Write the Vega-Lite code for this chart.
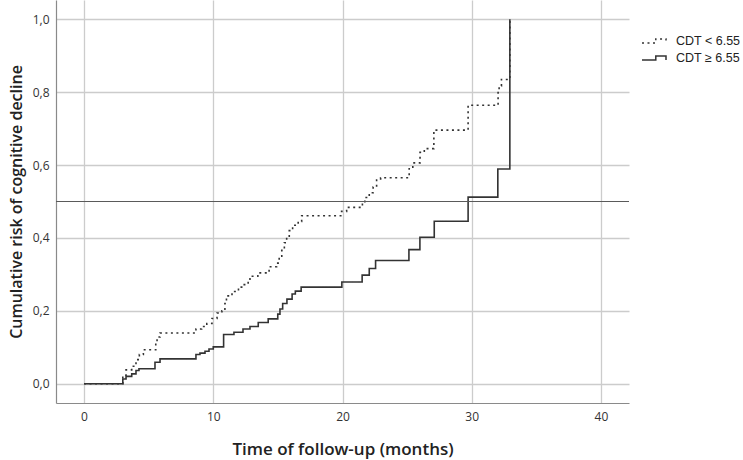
{
  "$schema": "https://vega.github.io/schema/vega-lite/v6.json",
  "autosize": {"type": "none"},
  "padding": {"left": 56, "top": 0, "right": 114, "bottom": 57},
  "width": 573,
  "height": 403,
  "background": "white",
  "config": {
    "view": {"stroke": null},
    "font": "Open Sans",
    "axis": {
      "labelFont": "Open Sans",
      "labelFontSize": 12,
      "labelColor": "#333333",
      "titleFont": "Open Sans",
      "titleFontSize": 16,
      "titleFontWeight": 600,
      "titleColor": "#222222",
      "gridColor": "#cccccc",
      "gridWidth": 1.3,
      "domainColor": "#8a8a8a",
      "domainWidth": 1.2,
      "ticks": false
    }
  },
  "data": {
    "values": [
      {"group": "CDT < 6.55", "month": 0, "risk": 0},
      {"group": "CDT < 6.55", "month": 3.0, "risk": 0.023},
      {"group": "CDT < 6.55", "month": 3.25, "risk": 0.038},
      {"group": "CDT < 6.55", "month": 3.69, "risk": 0.048},
      {"group": "CDT < 6.55", "month": 4.02, "risk": 0.066},
      {"group": "CDT < 6.55", "month": 4.28, "risk": 0.080},
      {"group": "CDT < 6.55", "month": 4.59, "risk": 0.093},
      {"group": "CDT < 6.55", "month": 5.55, "risk": 0.113},
      {"group": "CDT < 6.55", "month": 5.65, "risk": 0.128},
      {"group": "CDT < 6.55", "month": 5.88, "risk": 0.139},
      {"group": "CDT < 6.55", "month": 8.66, "risk": 0.150},
      {"group": "CDT < 6.55", "month": 9.1, "risk": 0.157},
      {"group": "CDT < 6.55", "month": 9.5, "risk": 0.165},
      {"group": "CDT < 6.55", "month": 9.9, "risk": 0.179},
      {"group": "CDT < 6.55", "month": 10.29, "risk": 0.194},
      {"group": "CDT < 6.55", "month": 10.67, "risk": 0.200},
      {"group": "CDT < 6.55", "month": 10.9, "risk": 0.220},
      {"group": "CDT < 6.55", "month": 11.02, "risk": 0.241},
      {"group": "CDT < 6.55", "month": 11.45, "risk": 0.253},
      {"group": "CDT < 6.55", "month": 11.95, "risk": 0.265},
      {"group": "CDT < 6.55", "month": 12.3, "risk": 0.272},
      {"group": "CDT < 6.55", "month": 12.7, "risk": 0.283},
      {"group": "CDT < 6.55", "month": 12.84, "risk": 0.295},
      {"group": "CDT < 6.55", "month": 13.45, "risk": 0.304},
      {"group": "CDT < 6.55", "month": 14.32, "risk": 0.321},
      {"group": "CDT < 6.55", "month": 14.9, "risk": 0.331},
      {"group": "CDT < 6.55", "month": 15.1, "risk": 0.350},
      {"group": "CDT < 6.55", "month": 15.3, "risk": 0.366},
      {"group": "CDT < 6.55", "month": 15.5, "risk": 0.387},
      {"group": "CDT < 6.55", "month": 15.68, "risk": 0.402},
      {"group": "CDT < 6.55", "month": 15.88, "risk": 0.420},
      {"group": "CDT < 6.55", "month": 16.14, "risk": 0.435},
      {"group": "CDT < 6.55", "month": 16.57, "risk": 0.445},
      {"group": "CDT < 6.55", "month": 16.84, "risk": 0.461},
      {"group": "CDT < 6.55", "month": 19.93, "risk": 0.473},
      {"group": "CDT < 6.55", "month": 20.32, "risk": 0.484},
      {"group": "CDT < 6.55", "month": 21.54, "risk": 0.495},
      {"group": "CDT < 6.55", "month": 21.73, "risk": 0.511},
      {"group": "CDT < 6.55", "month": 22.07, "risk": 0.524},
      {"group": "CDT < 6.55", "month": 22.37, "risk": 0.540},
      {"group": "CDT < 6.55", "month": 22.64, "risk": 0.559},
      {"group": "CDT < 6.55", "month": 22.95, "risk": 0.565},
      {"group": "CDT < 6.55", "month": 25.16, "risk": 0.590},
      {"group": "CDT < 6.55", "month": 25.44, "risk": 0.606},
      {"group": "CDT < 6.55", "month": 26.0, "risk": 0.635},
      {"group": "CDT < 6.55", "month": 26.33, "risk": 0.645},
      {"group": "CDT < 6.55", "month": 27.07, "risk": 0.696},
      {"group": "CDT < 6.55", "month": 29.72, "risk": 0.764},
      {"group": "CDT < 6.55", "month": 32.04, "risk": 0.799},
      {"group": "CDT < 6.55", "month": 32.12, "risk": 0.817},
      {"group": "CDT < 6.55", "month": 32.3, "risk": 0.835},
      {"group": "CDT < 6.55", "month": 32.95, "risk": 1.0},
      {"group": "CDT ≥ 6.55", "month": 0, "risk": 0},
      {"group": "CDT ≥ 6.55", "month": 3.0, "risk": 0.013},
      {"group": "CDT ≥ 6.55", "month": 3.25, "risk": 0.020},
      {"group": "CDT ≥ 6.55", "month": 3.69, "risk": 0.027},
      {"group": "CDT ≥ 6.55", "month": 4.02, "risk": 0.036},
      {"group": "CDT ≥ 6.55", "month": 4.25, "risk": 0.041},
      {"group": "CDT ≥ 6.55", "month": 5.49, "risk": 0.059},
      {"group": "CDT ≥ 6.55", "month": 5.88, "risk": 0.068},
      {"group": "CDT ≥ 6.55", "month": 8.66, "risk": 0.080},
      {"group": "CDT ≥ 6.55", "month": 8.97, "risk": 0.084},
      {"group": "CDT ≥ 6.55", "month": 9.36, "risk": 0.089},
      {"group": "CDT ≥ 6.55", "month": 9.67, "risk": 0.095},
      {"group": "CDT ≥ 6.55", "month": 10.0, "risk": 0.101},
      {"group": "CDT ≥ 6.55", "month": 10.8, "risk": 0.135},
      {"group": "CDT ≥ 6.55", "month": 11.6, "risk": 0.141},
      {"group": "CDT ≥ 6.55", "month": 12.3, "risk": 0.150},
      {"group": "CDT ≥ 6.55", "month": 12.84, "risk": 0.157},
      {"group": "CDT ≥ 6.55", "month": 13.48, "risk": 0.168},
      {"group": "CDT ≥ 6.55", "month": 14.25, "risk": 0.178},
      {"group": "CDT ≥ 6.55", "month": 14.99, "risk": 0.191},
      {"group": "CDT ≥ 6.55", "month": 15.16, "risk": 0.205},
      {"group": "CDT ≥ 6.55", "month": 15.37, "risk": 0.220},
      {"group": "CDT ≥ 6.55", "month": 15.7, "risk": 0.232},
      {"group": "CDT ≥ 6.55", "month": 16.1, "risk": 0.246},
      {"group": "CDT ≥ 6.55", "month": 16.35, "risk": 0.254},
      {"group": "CDT ≥ 6.55", "month": 16.8, "risk": 0.265},
      {"group": "CDT ≥ 6.55", "month": 19.95, "risk": 0.279},
      {"group": "CDT ≥ 6.55", "month": 21.52, "risk": 0.298},
      {"group": "CDT ≥ 6.55", "month": 22.07, "risk": 0.316},
      {"group": "CDT ≥ 6.55", "month": 22.56, "risk": 0.338},
      {"group": "CDT ≥ 6.55", "month": 25.14, "risk": 0.368},
      {"group": "CDT ≥ 6.55", "month": 25.99, "risk": 0.402},
      {"group": "CDT ≥ 6.55", "month": 27.1, "risk": 0.446},
      {"group": "CDT ≥ 6.55", "month": 29.72, "risk": 0.512},
      {"group": "CDT ≥ 6.55", "month": 32.02, "risk": 0.589},
      {"group": "CDT ≥ 6.55", "month": 32.95, "risk": 1.0}
    ]
  },
  "layer": [
    {
      "mark": {"type": "line", "interpolate": "step-after", "color": "#333333", "strokeWidth": 1.6},
      "encoding": {
        "x": {
          "field": "month", "type": "quantitative",
          "scale": {"domain": [-2.17, 42.17], "nice": false, "zero": false},
          "axis": {"values": [0, 10, 20, 30, 40], "grid": true, "labelPadding": 8, "titlePadding": 19, "titleFontSize": 17, "title": "Time of follow-up (months)"}
        },
        "y": {
          "field": "risk", "type": "quantitative",
          "scale": {"domain": [-0.053, 1.053], "nice": false, "zero": false},
          "axis": {"values": [0, 0.2, 0.4, 0.6, 0.8, 1.0], "grid": true, "labelPadding": 7, "titlePadding": 8,
                   "labelExpr": "replace(format(datum.value, '.1f'), '.', ',')",
                   "title": "Cumulative risk of cognitive decline"}
        },
        "strokeDash": {
          "field": "group", "type": "nominal",
          "scale": {"domain": ["CDT < 6.55", "CDT ≥ 6.55"], "range": [[2, 3.5], [1, 0]]},
          "legend": {
            "orient": "none", "legendX": 591, "legendY": 34, "title": null, "padding": 0,
            "symbolType": "M-2,0.33L0.3,0.33L0.3,-0.33L2,-0.33L2,0.33",
            "symbolSize": 144, "symbolStrokeWidth": 1.5, "symbolStrokeColor": "#333333",
            "labelFont": "Liberation Sans", "labelFontSize": 12.5, "labelColor": "#222222",
            "labelOffset": 15, "rowPadding": 3
          }
        }
      }
    },
    {
      "mark": {"type": "rule", "color": "#5a5a5a", "strokeWidth": 1.2},
      "encoding": {"y": {"datum": 0.5}}
    }
  ]
}
